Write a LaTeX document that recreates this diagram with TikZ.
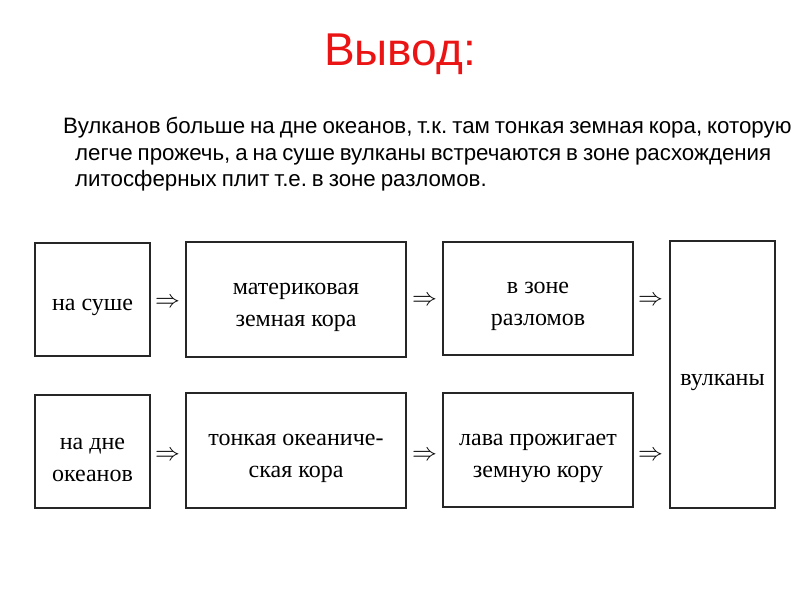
\documentclass[tikz,border=0pt]{standalone}
\usepackage{fontspec}
\usepackage{xcolor}
\usepackage{tikz}
\setmainfont{Liberation Serif}
\newfontfamily\headfont{Liberation Sans}
\newfontfamily\parafont[WordSpace=0.8]{Liberation Sans}
\definecolor{titlered}{RGB}{235,20,20}
\newcommand{\boxstrut}{\rule{0pt}{28pt}}
\tikzset{
  stepbox/.style={draw=black!85, line width=1.5pt, inner sep=0pt, align=center,
    font=\fontsize{24}{32}\selectfont},
  implies/.style={inner sep=0pt, font=\fontsize{24}{24}\selectfont},
}

\begin{document}
\begin{tikzpicture}[x=1pt, y=-1pt]
  \useasboundingbox (0,0) rectangle (800,600);

  % Heading
  \node[font=\headfont\fontsize{46}{46}\selectfont, text=titlered, anchor=base] (title) at (400,65) {Вывод:};

  % Conclusion text
  \node[font=\parafont\fontsize{22.3}{26.5}\selectfont\frenchspacing, anchor=north west, inner sep=0pt, align=left] (concl) at (63,117)
    {Вулканов больше на дне океанов, т.к. там тонкая земная кора, которую\\
     \hspace*{12pt}легче прожечь, а на суше вулканы встречаются в зоне расхождения\\
     \hspace*{12pt}литосферных плит т.е. в зоне разломов.};

  % Top row
  \node[stepbox, minimum width=115, minimum height=113] (land) at (92.5,299.5) {\boxstrut на суше};
  \node[stepbox, minimum width=220, minimum height=115] (crust) at (296,299.5) {\boxstrut материковая\\земная кора};
  \node[stepbox, minimum width=190, minimum height=113] (fault) at (538,298.5) {\boxstrut в зоне\\разломов};

  % Bottom row
  \node[stepbox, minimum width=115, minimum height=113] (ocean) at (92.5,451.5) {\boxstrut на дне\\океанов};
  \node[stepbox, minimum width=220, minimum height=115] (thin) at (296,450.5) {\boxstrut тонкая океаниче-\\ская кора};
  \node[stepbox, minimum width=190, minimum height=114] (lava) at (538,450) {\boxstrut лава прожигает\\земную кору};

  % Result
  \node[stepbox, minimum width=105, minimum height=267] (volc) at (722.5,374.5) {\boxstrut вулканы};

  % Arrows
  \node[implies] (landcrust) at (167.5,303) {$\Rightarrow$};
  \node[implies] (crustfault) at (424.5,301) {$\Rightarrow$};
  \node[implies] (faultvolc) at (650.5,301) {$\Rightarrow$};
  \node[implies] (oceanthin) at (167.5,456) {$\Rightarrow$};
  \node[implies] (thinlava) at (424.5,456) {$\Rightarrow$};
  \node[implies] (lavavolc) at (650.5,456) {$\Rightarrow$};
\end{tikzpicture}
\end{document}
